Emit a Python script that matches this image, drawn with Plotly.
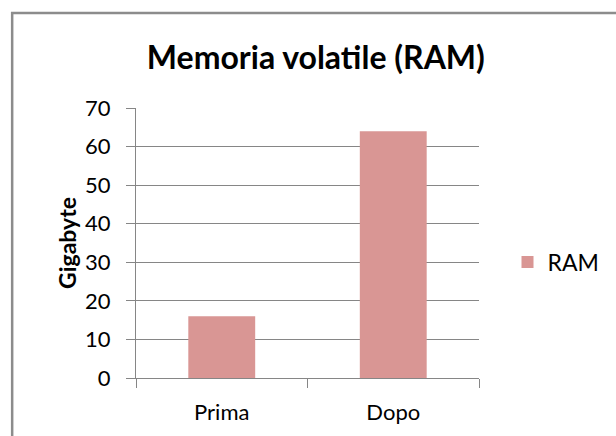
import plotly.graph_objects as go

categories = ["Prima", "Dopo"]
ram_values = [16, 64]
series_name = "RAM"
title_text = "Memoria volatile (RAM)"
y_title = "Gigabyte"
y_ticks = [0, 10, 20, 30, 40, 50, 60, 70]

W, H = 616, 436
L, R, T, B = 136, 131, 108, 58
pw, ph = W - L - R, H - T - B

def px_x(p):
    return (p - L) / pw

def px_y(p):
    return (H - B - p) / ph

fig = go.Figure()
fig.add_trace(go.Bar(x=categories, y=ram_values, name=series_name,
                     marker=dict(color="#D99694", line=dict(width=0))))

grid = "#868686"
fig.update_layout(
    width=W, height=H,
    margin=dict(l=L, r=R, t=T, b=B),
    paper_bgcolor="white", plot_bgcolor="white",
    font=dict(family="Lato, 'DejaVu Sans', sans-serif", color="black", size=22),
    bargap=0.61,
    showlegend=True,
    title=dict(text="<b>" + title_text + "</b>", font=dict(size=32, color="black"),
               x=px_x(319), xref="paper", xanchor="center",
               y=1 - 58 / H, yref="container", yanchor="middle"),
    legend=dict(x=px_x(514), xanchor="left", y=px_y(262), yanchor="middle",
                font=dict(size=23), bgcolor="rgba(0,0,0,0)"),
    xaxis=dict(type="category", tickson="boundaries", ticks="outside", ticklen=9,
               tickcolor=grid, showline=True, linecolor=grid, linewidth=1,
               showgrid=False, tickfont=dict(size=22), ticklabelstandoff=15),
    yaxis=dict(range=[0, 70], tickvals=y_ticks, ticks="outside", ticklen=9,
               tickcolor=grid, showline=True, linecolor=grid, linewidth=1,
               showgrid=True, gridcolor=grid, gridwidth=1, zeroline=False,
               tickfont=dict(size=22), ticklabelstandoff=11,
               title=dict(text="<b>" + y_title + "</b>", font=dict(size=23), standoff=2)),
)

# outer chart-area border (left and top edges visible)
x0 = px_x(10)
yt = px_y(13)
fig.add_shape(type="path", xref="paper", yref="paper",
              path=f"M {x0},{px_y(H + 10)} L {x0},{yt} L {px_x(W + 10)},{yt}",
              line=dict(color="#8c8c8c", width=2.5))

fig.write_html("out.html", config={"displayModeBar": False},
               post_script="document.body.style.margin='0';")
